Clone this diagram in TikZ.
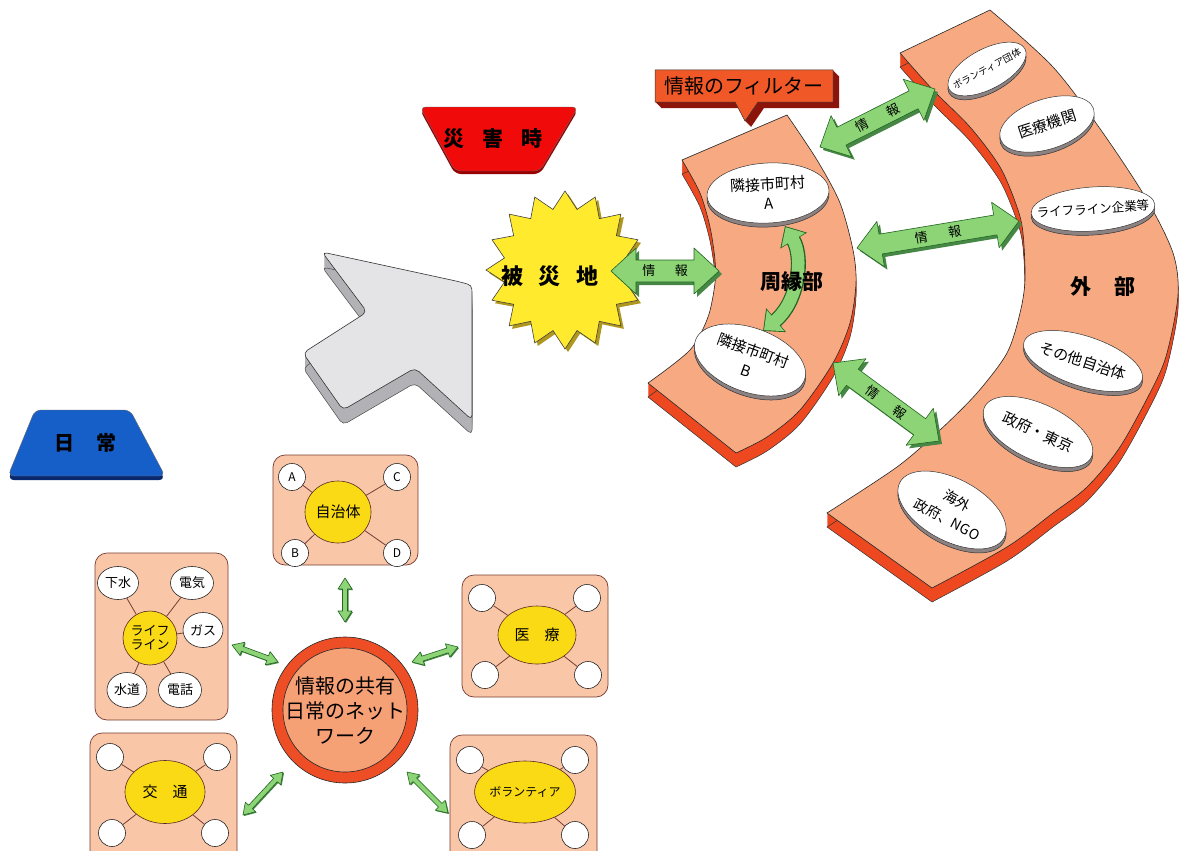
\documentclass[tikz,border=0pt]{standalone}
\usepackage{fontspec}
\setmainfont{Noto Sans CJK JP}
\usetikzlibrary{calc,shapes.geometric,arrows.meta}

\definecolor{bandfill}{RGB}{247,170,130}
\definecolor{bandside}{RGB}{238,72,32}
\definecolor{boxfill}{RGB}{249,198,168}
\definecolor{ringred}{RGB}{238,78,38}
\definecolor{netfill}{RGB}{246,160,118}
\definecolor{yel}{RGB}{250,218,20}
\definecolor{staryel}{RGB}{255,234,45}
\definecolor{starshadow}{RGB}{175,150,30}
\definecolor{lgreen}{RGB}{140,212,118}
\definecolor{dgreen}{RGB}{35,100,35}
\definecolor{sgreen}{RGB}{70,135,70}
\definecolor{linebrown}{RGB}{120,60,50}
\definecolor{greytop}{RGB}{228,228,231}
\definecolor{greyside}{RGB}{178,178,182}
\definecolor{labred}{RGB}{240,10,10}
\definecolor{labredd}{RGB}{150,0,0}
\definecolor{labblue}{RGB}{22,95,200}
\definecolor{labblued}{RGB}{10,40,110}
\definecolor{filterred}{RGB}{240,88,40}
\definecolor{filterdark}{RGB}{140,20,10}
\definecolor{discshadow}{RGB}{140,130,130}

\def\shugenpath{(682,160) -- (787,115) -- plot[smooth] coordinates {(787,115) (817,160) (840,203) (853,250) (856,283) (850,323) (833,363) (800,410) (767,437) (736,453)} -- (648,383) -- plot[smooth] coordinates {(648,383) (690,350) (708,317) (715,283) (715,260) (710,227) (700,193) (682,160)} -- cycle}
\def\gaibupath{(900,53) -- (990,10) -- plot[smooth] coordinates {(990,10) (1053,67) (1103,133) (1147,200) (1173,253) (1178,295) (1167,353) (1153,387) (1120,447) (1087,487) (1053,513) (1007,547) (932,588)} -- (827,513) -- plot[smooth] coordinates {(827,513) (897,467) (940,430) (977,393) (1007,353) (1020,313) (1025,280) (1023,233) (1017,207) (1000,167) (970,127) (933,90) (900,53)} -- cycle}
\def\greypath{(322,252) -- (456,281) .. controls (472,285) .. (472,300) -- (472,420) -- (415,368) -- (343,410) -- (303,353) -- (367,312) -- cycle}
\def\filterpath{(655,70) -- (833,70) -- (833,102) -- (758,102) -- (745,121) -- (735,102) -- (655,102) -- cycle}
\def\saipath{(420,107) -- (578,107) -- (540,171) -- (455,171) -- cycle}
\def\nichipath{(35,410) -- (130,410) -- (165,476) -- (8,476) -- cycle}

% green double arrow: start, end, shaft half width, head half width, head length, label, shadow offset
\newcommand\garrow[7]{%
  \coordinate (gaA) at ($(#1)!#5pt!(#2)$);
  \coordinate (gaB) at ($(#2)!#5pt!(#1)$);
  \coordinate (gp1) at ($(gaA)!#4pt!90:(#2)$);
  \coordinate (gp2) at ($(gaA)!#3pt!90:(#2)$);
  \coordinate (gp3) at ($(gaB)!#3pt!-90:(#1)$);
  \coordinate (gp4) at ($(gaB)!#4pt!-90:(#1)$);
  \coordinate (gp5) at ($(gaB)!#4pt!90:(#1)$);
  \coordinate (gp6) at ($(gaB)!#3pt!90:(#1)$);
  \coordinate (gp7) at ($(gaA)!#3pt!-90:(#2)$);
  \coordinate (gp8) at ($(gaA)!#4pt!-90:(#2)$);
  \fill[sgreen, transform canvas={xshift=#7pt,yshift=-#7pt}] (#1) -- (gp1) -- (gp2) -- (gp3) -- (gp4) -- (#2) -- (gp5) -- (gp6) -- (gp7) -- (gp8) -- cycle;
  \draw[fill=lgreen, draw=dgreen, line width=0.6, line join=round] (#1) -- (gp1) -- (gp2) -- (gp3) -- (gp4) -- (#2) -- (gp5) -- (gp6) -- (gp7) -- (gp8) -- cycle;
  \path (#1) -- (#2) node[midway, sloped, inner sep=0, font=\fontsize{13}{13}\selectfont] {#6};
}

% white disc with rim: name, x, y, width, height, rotation, font, text
\newcommand\disc[8]{%
  \node[discbase, fill=discshadow, minimum width=#4, minimum height=#5, rotate=#6] at (#2,{#3+4}) {};
  \node[discbase, fill=white, minimum width=#4, minimum height=#5, rotate=#6] (#1) at (#2,#3) {};
  \node[rotate=#6, align=center, inner sep=0, font=#7] at (#1) {#8};
}

\begin{document}
\begin{tikzpicture}[x=1pt,y=-1pt,
  discbase/.style={ellipse, draw=black!80, line width=0.5, inner sep=0},
  whitecirc/.style={circle, fill=white, draw=black!85, line width=0.6, minimum size=27, inner sep=0, font=\fontsize{12}{12}\selectfont},
  whiteell/.style={ellipse, fill=white, draw=black!85, line width=0.6, inner sep=0, font=\fontsize{13}{13}\selectfont},
  yellowell/.style={ellipse, fill=yel, draw=linebrown!70!black, line width=0.6, inner sep=0},
  smallbox/.style={fill=boxfill, draw=linebrown, line width=0.7, rounded corners=12},
  spoke/.style={draw=linebrown, line width=0.8},
  bigtext/.style={font=\fontsize{21}{21}\selectfont\bfseries},
]
\useasboundingbox (0,0) rectangle (1183,851);
\clip (0,0) rectangle (1183,851);
\fill[white] (0,0) rectangle (1183,851);

% ---------- labels ----------
\fill[labredd, rounded corners=6, shift={(0,3)}] \saipath;
\fill[labred, rounded corners=6] \saipath;
\draw[black!60, line width=0.4, rounded corners=6] \saipath;
\node[bigtext] (saigai) at (493,139) {災\hspace{0.85em}害\hspace{0.85em}時};

\fill[labblued, rounded corners=6, shift={(0,4)}] \nichipath;
\fill[labblue, rounded corners=6] \nichipath;
\draw[black!60, line width=0.4, rounded corners=6] \nichipath;
\node[font=\fontsize{20}{20}\selectfont\bfseries] (nichijo) at (85,443) {日\hspace{1.1em}常};

% ---------- grey arrow ----------
\foreach \d in {15,14,...,1} { \fill[greyside, rounded corners=5, shift={(0,\d)}] \greypath; }
\draw[black!70, line width=0.5, rounded corners=5, shift={(0,15)}] \greypath;
\filldraw[fill=greytop, draw=black!80, line width=0.6, rounded corners=5] \greypath;

% ---------- outer band ----------
\foreach \d in {14,13,...,1} { \fill[bandside, shift={(0,\d)}] \gaibupath; }
\draw[black!80, line width=0.5, shift={(0,14)}] \gaibupath;
\filldraw[fill=bandfill, draw=black!85, line width=0.6] \gaibupath;
\node[bigtext] (gaibu) at (1103,287) {外\hspace{1.1em}部};
\disc{vol}{987}{69}{86}{40}{28}{\fontsize{9.5}{10}\selectfont}{ボランティア団体}
\disc{iryokikan}{1047}{124}{98}{50}{18}{\fontsize{15}{15}\selectfont}{医療機関}
\disc{lifeline}{1093}{209}{124}{44}{4}{\fontsize{12.5}{13}\selectfont}{ライフライン企業等}
\disc{sonota}{1083}{361}{124}{50}{-18}{\fontsize{15}{15}\selectfont}{その他自治体}
\disc{seifu}{1038}{432}{118}{56}{-25}{\fontsize{15}{15}\selectfont}{政府・東京}
\disc{kaigai}{952}{510}{118}{62}{-28}{\fontsize{14}{21}\selectfont}{海外\\政府、NGO}

% ---------- peripheral band ----------
\foreach \d in {14,13,...,1} { \fill[bandside, shift={(0,\d)}] \shugenpath; }
\draw[black!80, line width=0.5, shift={(0,14)}] \shugenpath;
\filldraw[fill=bandfill, draw=black!85, line width=0.6] \shugenpath;
\disc{adjA}{768}{193}{122}{60}{3}{\fontsize{15}{19}\selectfont}{隣接市町村\\A}
\disc{adjB}{750}{360}{116}{64}{-20}{\fontsize{15}{21}\selectfont}{隣接市町村\\B}

% curved arrow between A and B
\coordinate (cA) at (785,226);
\coordinate (cB) at (763,331);
\draw[line width=15, dgreen, {Triangle[width=30,length=17]}-{Triangle[width=30,length=17]}] (cA) .. controls (804,258) and (798,302) .. (cB);
\draw[line width=12.5, lgreen, shorten <=1.3, shorten >=1.3, {Triangle[width=26.5,length=15]}-{Triangle[width=26.5,length=15]}] (cA) .. controls (804,258) and (798,302) .. (cB);
\node[bigtext] (shugen) at (792,282) {周縁部};

% ---------- filter callout ----------
\foreach \d in {6,5,...,1} { \fill[filterdark, shift={(\d,\d)}] \filterpath; }
\filldraw[fill=filterred, draw=black!80, line width=0.5] \filterpath;
\node[font=\fontsize{20}{20}\selectfont] (filter) at (744,86) {情報のフィルター};

% ---------- starburst ----------
\node[star, star points=16, star point ratio=1.28, minimum size=158, inner sep=0, fill=starshadow] at (568,273) {};
\node[star, star points=16, star point ratio=1.28, minimum size=158, inner sep=0, fill=staryel, draw=black!75, line width=0.6] (hisai) at (565,270) {};
\node[font=\fontsize{22}{22}\selectfont\bfseries] at (550,276) {被\hspace{0.7em}災\hspace{0.7em}地};

% ---------- information arrows (disaster) ----------
\coordinate (j0s) at (611,271); \coordinate (j0e) at (719,271);
\garrow{j0s}{j0e}{11}{23}{25}{情\hspace{1.5em}報}{3}
\coordinate (j1s) at (820,147); \coordinate (j1e) at (935,89);
\garrow{j1s}{j1e}{10}{23}{24}{情\hspace{1.6em}報}{3}
\coordinate (j2s) at (857,248); \coordinate (j2e) at (1019,221);
\garrow{j2s}{j2e}{10}{23}{24}{情\hspace{1.6em}報}{3}
\coordinate (j3s) at (833,363); \coordinate (j3e) at (939,441);
\garrow{j3s}{j3e}{10}{23}{24}{情\hspace{1.6em}報}{3}

% ---------- everyday network ----------
\node[circle, fill=ringred, draw=black!85, line width=0.6, minimum size=146, inner sep=0] (net) at (345,710) {};
\node[circle, fill=netfill, draw=black!85, line width=0.6, minimum size=124, inner sep=0] at (net) {};
\node[align=center, font=\fontsize{20}{25}\selectfont] at (345,711) {情報の共有\\日常のネット\\ワーク};

% box: local governments
\draw[smallbox] (273,455) rectangle (418,565);
\node[yellowell, minimum width=66, minimum height=62, font=\fontsize{15}{15}\selectfont] (jichi) at (338,512) {自治体};
\node[whitecirc] (jA) at (292,477) {A};
\node[whitecirc] (jC) at (397,477) {C};
\node[whitecirc] (jB) at (295,553) {B};
\node[whitecirc] (jD) at (397,553) {D};
\foreach \c in {jA,jB,jC,jD} \draw[spoke] (jichi) -- (\c);

% box: lifelines
\draw[smallbox] (95,553) rectangle (228,720);
\node[yellowell, circle, minimum size=54, align=center, font=\fontsize{13}{14}\selectfont] (life) at (150,638) {ライフ\\ライン};
\node[whiteell, minimum width=41, minimum height=33] (gesui) at (118,583) {下水};
\node[whiteell, minimum width=43, minimum height=33] (denki) at (192,583) {電気};
\node[whiteell, minimum width=40, minimum height=35] (gas) at (203,630) {ガス};
\node[whiteell, minimum width=40, minimum height=35] (suido) at (127,690) {水道};
\node[whiteell, minimum width=43, minimum height=35] (denwa) at (180,690) {電話};
\foreach \c in {gesui,denki,gas,suido,denwa} \draw[spoke] (life) -- (\c);

% box: medical
\draw[smallbox] (462,575) rectangle (608,697);
\node[yellowell, minimum width=78, minimum height=58, font=\fontsize{15}{15}\selectfont] (iryo) at (537,635) {医\hspace{1em}療};
\node[whitecirc] (m1) at (482,598) {};
\node[whitecirc] (m2) at (587,598) {};
\node[whitecirc] (m3) at (485,675) {};
\node[whitecirc] (m4) at (588,675) {};
\foreach \c in {m1,m2,m3,m4} \draw[spoke] (iryo) -- (\c);

% box: transport
\draw[smallbox] (90,733) rectangle (237,866);
\node[yellowell, minimum width=80, minimum height=63, font=\fontsize{15}{15}\selectfont] (kotsu) at (165,792) {交\hspace{1em}通};
\node[whitecirc] (t1) at (110,757) {};
\node[whitecirc] (t2) at (217,757) {};
\node[whitecirc] (t3) at (112,833) {};
\node[whitecirc] (t4) at (215,833) {};
\foreach \c in {t1,t2,t3,t4} \draw[spoke] (kotsu) -- (\c);

% box: volunteers
\draw[smallbox] (450,735) rectangle (597,866);
\node[yellowell, minimum width=80, minimum height=62, font=\fontsize{12}{12}\selectfont] (borantia) at (525,792) {ボランティア};
\node[whitecirc] (v1) at (470,760) {};
\node[whitecirc] (v2) at (575,760) {};
\node[whitecirc] (v3) at (472,835) {};
\node[whitecirc] (v4) at (575,835) {};
\foreach \c in {v1,v2,v3,v4} \draw[spoke] (borantia) -- (\c);

% small arrows
\coordinate (s1s) at (345,578); \coordinate (s1e) at (345,622);
\garrow{s1s}{s1e}{2.5}{7}{11}{}{1}
\coordinate (s2s) at (232,645); \coordinate (s2e) at (278,662);
\garrow{s2s}{s2e}{2.5}{7}{11}{}{1}
\coordinate (s3s) at (412,662); \coordinate (s3e) at (458,647);
\garrow{s3s}{s3e}{2.5}{7}{11}{}{1}
\coordinate (s4s) at (283,772); \coordinate (s4e) at (243,815);
\garrow{s4s}{s4e}{2.5}{7}{11}{}{1}
\coordinate (s5s) at (407,772); \coordinate (s5e) at (448,813);
\garrow{s5s}{s5e}{2.5}{7}{11}{}{1}
\end{tikzpicture}
\end{document}
